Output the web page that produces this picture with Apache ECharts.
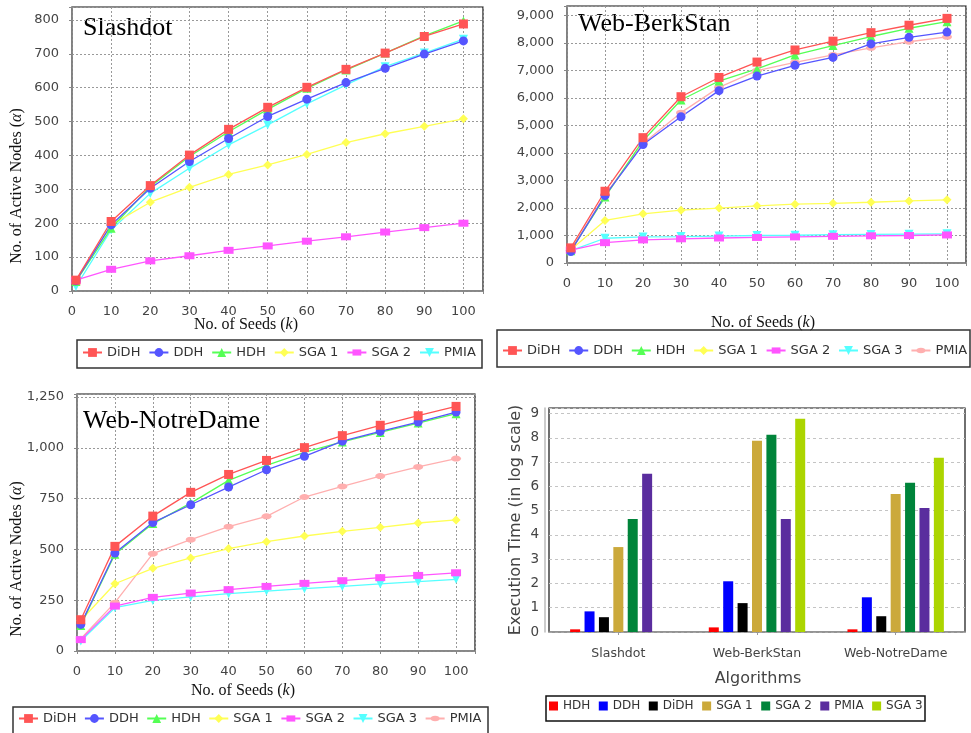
<!DOCTYPE html>
<html><head><meta charset="utf-8">
<script src="https://cdn.jsdelivr.net/npm/echarts@6/dist/echarts.min.js"></script>
<style>
html,body{margin:0;padding:0;background:#fff;width:971px;height:733px;overflow:hidden}
.c{position:absolute;left:0;top:0;width:971px;height:733px}
</style>
</head><body>
<div id="c1" class="c"></div>
<div id="c2" class="c"></div>
<div id="c3" class="c"></div>
<div id="c4" class="c"></div>
<script>
// ---------- data ----------
const seeds = [1, 10, 20, 30, 40, 50, 60, 70, 80, 90, 100];

// Slashdot
const sdDiDH = [32, 205, 311, 401, 477, 542, 601, 654, 702, 751, 788];
const sdDDH  = [30, 195, 303, 382, 450, 515, 566, 615, 657, 699, 738];
const sdHDH  = [28, 185, 308, 397, 470, 536, 598, 652, 702, 753, 797];
const sdSGA1 = [30, 195, 262, 306, 344, 372, 403, 438, 464, 486, 508];
const sdSGA2 = [32, 64, 89, 104, 120, 133, 147, 160, 174, 187, 200];
const sdPMIA = [13, 180, 288, 362, 431, 490, 552, 608, 662, 702, 743];

// Web-BerkStan
const bsDiDH = [550, 2610, 4560, 6050, 6750, 7310, 7750, 8070, 8380, 8650, 8900];
const bsDDH  = [420, 2450, 4310, 5320, 6270, 6800, 7190, 7480, 7970, 8210, 8400];
const bsHDH  = [450, 2400, 4450, 5930, 6620, 7060, 7570, 7910, 8240, 8540, 8780];
const bsSGA1 = [480, 1550, 1790, 1920, 2000, 2080, 2140, 2170, 2210, 2260, 2300];
const bsSGA2 = [470, 740, 840, 880, 910, 930, 950, 970, 990, 1000, 1020];
const bsSGA3 = [450, 900, 950, 960, 980, 1000, 1010, 1030, 1040, 1050, 1060];
const bsPMIA = [460, 2480, 4350, 5470, 6390, 7000, 7300, 7570, 7830, 8050, 8230];

// Web-NotreDame
const ndDiDH = [154, 515, 664, 781, 869, 938, 1001, 1060, 1111, 1158, 1204];
const ndDDH  = [131, 482, 632, 720, 807, 892, 958, 1033, 1081, 1127, 1176];
const ndHDH  = [126, 476, 627, 728, 840, 914, 978, 1029, 1076, 1122, 1168];
const ndSGA1 = [150, 331, 407, 458, 504, 538, 566, 589, 609, 630, 645];
const ndSGA2 = [56, 221, 264, 285, 302, 318, 333, 346, 361, 372, 385];
const ndSGA3 = [49, 213, 249, 266, 282, 295, 307, 318, 330, 341, 353];
const ndPMIA = [60, 238, 479, 548, 612, 663, 758, 810, 861, 906, 947];

// Execution time (log scale)
const datasets = ['Slashdot', 'Web-BerkStan', 'Web-NotreDame'];
const etHDH  = [0.11, 0.19, 0.11];
const etDDH  = [0.85, 2.09, 1.43];
const etDiDH = [0.61, 1.19, 0.65];
const etSGA1 = [3.50, 7.88, 5.69];
const etSGA2 = [4.66, 8.13, 6.15];
const etPMIA = [6.52, 4.66, 5.11];
const etSGA3 = ['-', 8.79, 7.18];

// ---------- styles ----------
const SANS = 'DejaVu Sans', SERIF = 'Liberation Serif';
const COL = {DiDH:'#FF5555', DDH:'#5555FF', HDH:'#55FF55', SGA1:'#FFFF55', SGA2:'#FF55FF', SGA3:'#55FFFF', PINK:'#FFAFAF'};
const SYM_HRECT = 'path://M0,0M10,10M0,1.5L10,1.5L10,8.5L0,8.5Z';
const SYM_DTRI = 'path://M0,0L10,0L5,9Z';
const SYM_ELL = 'path://M0,0M10,10M0,5A5,3 0 1,0 10,5A5,3 0 1,0 0,5Z';

function pairs(arr) { return seeds.map((x, i) => [x, arr[i]]); }

function lineSeries(name, arr, color, symbol, size) {
  return {
    type: 'line', name: name, data: pairs(arr), symbol: symbol, symbolSize: size,
    itemStyle: {color: color, borderWidth: 0},
    lineStyle: {color: color, width: 1.3},
    emphasis: {disabled: true}, animation: false
  };
}

function fmt(interval) {
  return v => (Math.abs(v / interval - Math.round(v / interval)) < 1e-9 ? v.toLocaleString('en-US') : '');
}

function lineOption(p) {
  const graphic = [
    {type: 'text', left: p.title[0], top: p.title[1] - 15, style: {text: p.title[2], font: '26px "' + SERIF + '"', fill: '#000'}},
    {type: 'text', x: p.xname[0], y: p.xname[1], style: {text: 'No. of Seeds ({i|k})', fontFamily: SERIF, fontSize: 16, fill: '#111', align: 'center', verticalAlign: 'middle', rich: {i: {fontFamily: SERIF, fontSize: 16, fontStyle: 'italic', fill: '#111'}}}},
    {type: 'rect', shape: {x: p.box[0], y: p.box[1], width: p.box[2], height: p.box[3]}, style: {fill: 'none', stroke: '#333', lineWidth: 1.5}, z: -1}
  ];
  if (p.yname) {
    graphic.push({type: 'text', x: p.yname[0], y: p.yname[1], rotation: Math.PI / 2,
      style: {text: 'No. of Active Nodes ({i|α})', fontFamily: SERIF, fontSize: 16, fill: '#111', align: 'center', verticalAlign: 'middle', rich: {i: {fontFamily: SERIF, fontSize: 16, fontStyle: 'italic', fill: '#111'}}}});
  }
  return {
    animation: false,
    backgroundColor: 'transparent',
    grid: {left: p.grid[0], top: p.grid[1], width: p.grid[2], height: p.grid[3], show: true, borderColor: '#111', borderWidth: 1.2, backgroundColor: '#fff'},
    xAxis: {
      type: 'value', min: 0, max: 105, interval: 10, offset: 5,
      axisLine: {show: true, lineStyle: {color: '#888', width: 1.5}},
      axisTick: {show: true, length: 3, lineStyle: {color: '#888'}},
      axisLabel: {fontFamily: SANS, fontSize: 13, color: '#444', margin: 9, formatter: fmt(10)},
      splitLine: {show: true, lineStyle: {color: '#999', type: [2, 2], width: 1}}
    },
    yAxis: {
      type: 'value', min: 0, max: p.yMax, interval: p.yInt, offset: 5,
      axisLine: {show: true, lineStyle: {color: '#888', width: 1.5}},
      axisTick: {show: true, length: 3, lineStyle: {color: '#888'}},
      axisLabel: {fontFamily: SANS, fontSize: 13, color: '#444', margin: 8, formatter: fmt(p.yInt)},
      splitLine: {show: true, lineStyle: {color: '#999', type: [2, 2], width: 1}}
    },
    legend: {
      left: p.legend[0], top: p.legend[1] - 8, width: 600, orient: 'horizontal', padding: 0,
      itemWidth: 19, itemHeight: 11, itemGap: p.legend[2], selectedMode: false,
      data: p.names,
      textStyle: {fontFamily: SANS, fontSize: 13, color: '#333'}
    },
    graphic: graphic,
    series: p.series.slice().reverse()
  };
}

const opt1 = lineOption({
  grid: [72, 7, 411, 284], yMax: 838, yInt: 100,
  legend: [82, 354, 8], box: [77, 340, 405, 28],
  title: [83, 30, 'Slashdot'], yname: [17, 186], xname: [246, 325],
  names: ['DiDH', 'DDH', 'HDH', 'SGA 1', 'SGA 2', 'PMIA'],
  series: [
    lineSeries('DiDH', sdDiDH, COL.DiDH, 'rect', 9),
    lineSeries('DDH', sdDDH, COL.DDH, 'circle', 9),
    lineSeries('HDH', sdHDH, COL.HDH, 'triangle', 9),
    lineSeries('SGA 1', sdSGA1, COL.SGA1, 'diamond', 9),
    lineSeries('SGA 2', sdSGA2, COL.SGA2, SYM_HRECT, 10),
    lineSeries('PMIA', sdPMIA, COL.SGA3, SYM_DTRI, 9)
  ]
});

const opt2 = lineOption({
  grid: [567, 6, 399, 257], yMax: 9350, yInt: 1000,
  legend: [502, 352, 7.8], box: [497, 330, 473, 37],
  title: [578, 26, 'Web-BerkStan'], yname: null, xname: [763, 323],
  names: ['DiDH', 'DDH', 'HDH', 'SGA 1', 'SGA 2', 'SGA 3', 'PMIA'],
  series: [
    lineSeries('DiDH', bsDiDH, COL.DiDH, 'rect', 9),
    lineSeries('DDH', bsDDH, COL.DDH, 'circle', 9),
    lineSeries('HDH', bsHDH, COL.HDH, 'triangle', 9),
    lineSeries('SGA 1', bsSGA1, COL.SGA1, 'diamond', 9),
    lineSeries('SGA 2', bsSGA2, COL.SGA2, SYM_HRECT, 10),
    lineSeries('SGA 3', bsSGA3, COL.SGA3, SYM_DTRI, 9),
    lineSeries('PMIA', bsPMIA, COL.PINK, SYM_ELL, 10)
  ]
});

const opt3 = lineOption({
  grid: [77, 394, 398, 257], yMax: 1265, yInt: 250,
  legend: [18, 720, 7.5], box: [13, 707, 475, 40],
  title: [83, 423, 'Web-NotreDame'], yname: [17, 559], xname: [243, 691],
  names: ['DiDH', 'DDH', 'HDH', 'SGA 1', 'SGA 2', 'SGA 3', 'PMIA'],
  series: [
    lineSeries('DiDH', ndDiDH, COL.DiDH, 'rect', 9),
    lineSeries('DDH', ndDDH, COL.DDH, 'circle', 9),
    lineSeries('HDH', ndHDH, COL.HDH, 'triangle', 9),
    lineSeries('SGA 1', ndSGA1, COL.SGA1, 'diamond', 9),
    lineSeries('SGA 2', ndSGA2, COL.SGA2, SYM_HRECT, 10),
    lineSeries('SGA 3', ndSGA3, COL.SGA3, SYM_DTRI, 9),
    lineSeries('PMIA', ndPMIA, COL.PINK, SYM_ELL, 10)
  ]
});

function bar(name, arr, color) {
  return {type: 'bar', name: name, data: arr, barWidth: 10, barGap: '44%', itemStyle: {color: color}, emphasis: {disabled: true}, animation: false};
}

const opt4 = {
  animation: false,
  backgroundColor: 'transparent',
  grid: {left: 549, top: 408, width: 416, height: 224, show: true, borderColor: '#111', borderWidth: 1.2, backgroundColor: '#fff'},
  xAxis: {
    type: 'category', data: datasets, offset: 5,
    axisLine: {show: true, lineStyle: {color: '#999', width: 1.5}},
    axisTick: {show: true, alignWithLabel: true, length: 3, lineStyle: {color: '#999'}},
    axisLabel: {fontFamily: SANS, fontSize: 12.5, color: '#444', margin: 10},
    splitLine: {show: false}
  },
  yAxis: {
    type: 'value', min: 0, max: 9.23, interval: 1, offset: 4,
    axisLine: {show: true, lineStyle: {color: '#bbb', width: 1.5}},
    axisTick: {show: false},
    axisLabel: {fontFamily: SANS, fontSize: 13.5, color: '#444', margin: 6, formatter: fmt(1)},
    splitLine: {show: true, lineStyle: {color: '#c4c4c4', type: [3, 3], width: 1}}
  },
  legend: {
    left: 549, top: 700, width: 500, orient: 'horizontal', padding: 0, icon: 'rect',
    itemWidth: 9, itemHeight: 9, itemGap: 8.5, selectedMode: false,
    data: ['HDH', 'DDH', 'DiDH', 'SGA 1', 'SGA 2', 'PMIA', 'SGA 3'],
    textStyle: {fontFamily: SANS, fontSize: 12, color: '#333'}
  },
  graphic: [
    {type: 'text', x: 516, y: 520, rotation: Math.PI / 2, style: {text: 'Execution Time (in log scale)', fontFamily: SANS, fontSize: 16, fill: '#444', align: 'center', verticalAlign: 'middle'}},
    {type: 'text', x: 758, y: 679, style: {text: 'Algorithms', fontFamily: SANS, fontSize: 16, fill: '#444', align: 'center', verticalAlign: 'middle'}},
    {type: 'rect', shape: {x: 546, y: 696, width: 379, height: 25}, style: {fill: 'none', stroke: '#111', lineWidth: 1.5}, z: -1}
  ],
  series: [
    bar('HDH', etHDH, '#FF0000'),
    bar('DDH', etDDH, '#0000FF'),
    bar('DiDH', etDiDH, '#000000'),
    bar('SGA 1', etSGA1, '#CBA93B'),
    bar('SGA 2', etSGA2, '#00843A'),
    bar('PMIA', etPMIA, '#5A2D9E'),
    bar('SGA 3', etSGA3, '#ACD500')
  ]
};

[opt1, opt2, opt3, opt4].forEach((o, i) => {
  const ch = echarts.init(document.getElementById('c' + (i + 1)), null, {renderer: 'canvas'});
  ch.setOption(o);
});
</script>
</body></html>
